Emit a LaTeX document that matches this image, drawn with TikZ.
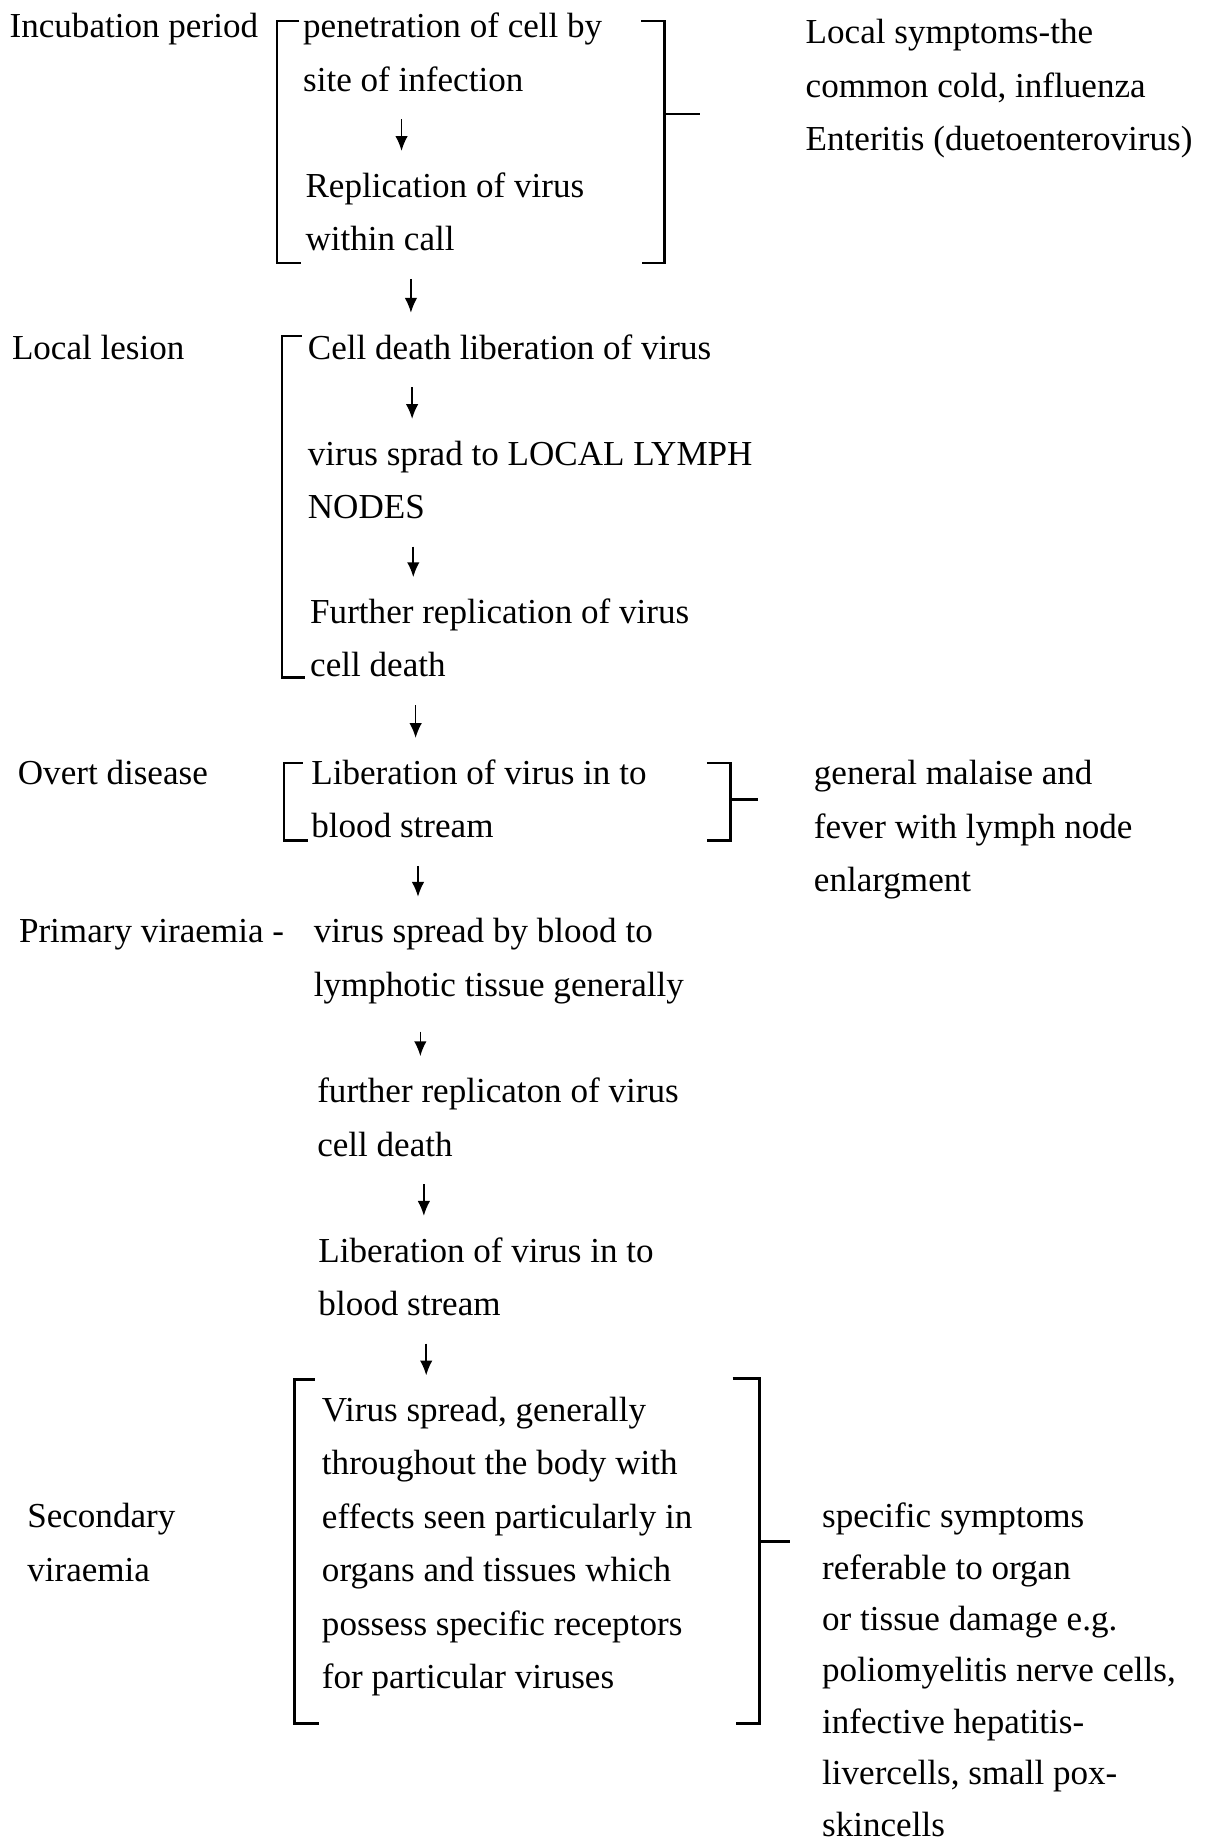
\documentclass[tikz,border=0pt]{standalone}
\usepackage{fontspec}
\setmainfont{Liberation Serif}
\usetikzlibrary{arrows.meta}
\tikzset{
  txt/.style={anchor=base west, inner sep=0pt, align=left, text=black,
    font=\fontsize{25.5}{38.8}\selectfont},
  brak/.style={draw=black, line width=1.8pt},
  flow/.style={-{Latex[length=3.8mm, width=3.2mm]}, draw=black, line width=1.2pt,
    shorten <=0.7cm, shorten >=0.55cm}
}
\begin{document}
\begin{tikzpicture}[x=0.03cm, y=-0.03cm]
\useasboundingbox (0,0) rectangle (1032,1568);
% stage labels (base = last line)
\node[txt] (inc) at (8,32) {Incubation period};
\node[txt] (loc) at (10,306) {Local lesion};
\node[txt] (ovt) at (15,668) {Overt disease};
\node[txt] (pri) at (16,803) {Primary viraemia -};
\node[txt] (sec) at (23,1346.6) {Secondary\\viraemia};
% main chain
\node[txt] (p1) at (258,77.6) {penetration of cell by\\site of infection};
\node[txt] (p2) at (260,213.6) {Replication of virus\\within call};
\node[txt] (l1) at (262,306) {Cell death liberation of virus};
\node[txt] (l2) at (262,441.6) {virus sprad to LOCAL LYMPH\\NODES};
\node[txt] (l3) at (264,576.6) {Further replication of virus\\cell death};
\node[txt] (o1) at (265,713.6) {Liberation of virus in to\\blood stream};
\node[txt] (v1) at (267,848.6) {virus spread by blood to\\lymphotic tissue generally};
\node[txt] (v2) at (270,984.6) {further replicaton of virus\\cell death};
\node[txt] (v3) at (271,1120.6) {Liberation of virus in to\\blood stream};
\node[txt] (s1) at (274,1438) {Virus spread, generally\\throughout the body with\\effects seen particularly in\\organs and tissues which\\possess specific receptors\\for particular viruses};
% symptoms
\node[txt] (r1) at (686,128.2) {Local symptoms-the\\common cold, influenza\\Enteritis (duetoenterovirus)};
\node[txt] (r2) at (693,759.2) {general malaise and\\fever with lymph node\\enlargment};
\node[txt, font=\fontsize{25.5}{37.4}\selectfont] (r3) at (700,1564) {specific symptoms\\referable to organ\\or tissue damage e.g.\\poliomyelitis nerve cells,\\infective hepatitis-\\livercells, small pox-\\skincells};
% arrows
\draw[flow] ([xshift=2.52cm]p1.south west) -- ([xshift=2.52cm]p1.south west |- p2.north);
\draw[flow] ([xshift=2.7cm]p2.south west) -- ([xshift=2.7cm]p2.south west |- l1.north);
\draw[flow] ([xshift=2.67cm]l1.south west) -- ([xshift=2.67cm]l1.south west |- l2.north);
\draw[flow] ([xshift=2.7cm]l2.south west) -- ([xshift=2.7cm]l2.south west |- l3.north);
\draw[flow] ([xshift=2.7cm]l3.south west) -- ([xshift=2.7cm]l3.south west |- o1.north);
\draw[flow] ([xshift=2.73cm]o1.south west) -- ([xshift=2.73cm]o1.south west |- v1.north);
\draw[flow] ([xshift=2.73cm]v1.south west) -- ([xshift=2.73cm]v1.south west |- v2.north);
\draw[flow] ([xshift=2.73cm]v2.south west) -- ([xshift=2.73cm]v2.south west |- v3.north);
\draw[flow] ([xshift=2.76cm]v3.south west) -- ([xshift=2.76cm]v3.south west |- s1.north);
% brackets
\draw[brak] (255,18) -- (236,18) -- (236,224) -- (256,224);
\draw[brak] (546,18) -- (566,18) -- (566,224) -- (547,224);
\draw[brak] (566,97) -- (596,97);
\draw[brak] (257,286) -- (240,286) -- (240,577) -- (260,577);
\draw[brak] (258,650) -- (242,650) -- (242,716) -- (262,716);
\draw[brak] (602,650) -- (622,650) -- (622,716) -- (602,716);
\draw[brak] (622,681) -- (646,681);
\draw[brak] (268,1175) -- (251,1175) -- (251,1468) -- (272,1468);
\draw[brak] (624,1174) -- (647,1174) -- (647,1468) -- (627,1468);
\draw[brak] (647,1313) -- (673,1313);
\end{tikzpicture}
\end{document}
